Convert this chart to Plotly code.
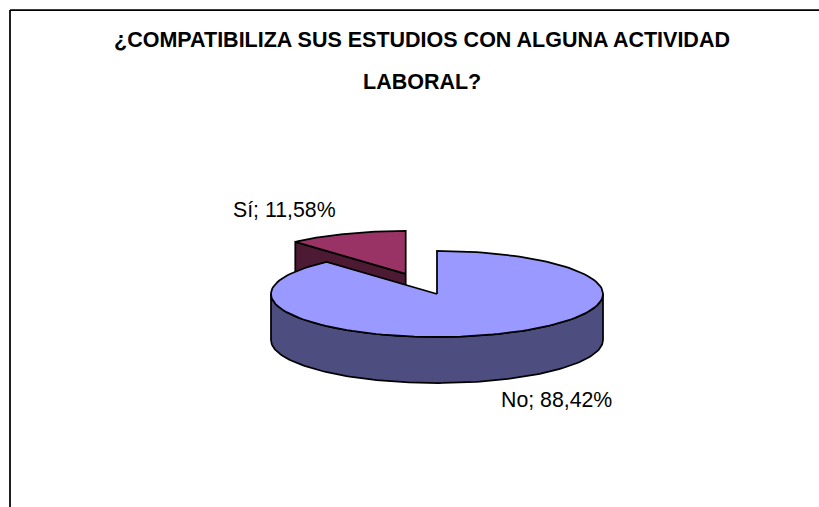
import numpy as np
import plotly.graph_objects as go

# Data
categories = ["No", "Sí"]
percentages = [88.42, 11.58]
colors_top = ["#9999FF", "#993366"]
colors_side = ["#4D4D80", "#4D1A33"]
title_lines = ["¿COMPATIBILIZA SUS ESTUDIOS CON ALGUNA ACTIVIDAD", "LABORAL?"]

W, H = 819, 507

# Pie projection (data units: 1 = ellipse radius on each axis)
CX, CY, RX, RY = 437, 294, 166, 43
DEPTH = 46 / RY
EXPLODE = 0.5
FONT = "Liberation Sans"
LABEL_SIZE = 21.3
TITLE_SIZE = 21.5
LEFT = 10
TOP = 10
LINE = 1.75


def wedge_xy(start, end, dx=0.0, dy=0.0):
    t = np.radians(np.linspace(start, end, 140))
    x = np.concatenate([[dx], dx + np.sin(t), [dx]])
    y = np.concatenate([[dy], dy + np.cos(t), [dy]])
    return x, y


def poly(x, y, fill):
    return go.Scatter(x=x, y=y, mode="lines", fill="toself", fillcolor=fill,
                      line=dict(color="black", width=LINE), hoverinfo="skip",
                      showlegend=False)


no_deg = percentages[0] * 3.6
si_deg = percentages[1] * 3.6
mid = np.radians(-si_deg / 2)
dx, dy = EXPLODE * np.sin(mid) * 1.06, EXPLODE * np.cos(mid)
edge = np.radians(-si_deg)

fig = go.Figure()
# Sí slice: cut wall, then top
fig.add_trace(poly([dx, dx + np.sin(edge), dx + np.sin(edge), dx, dx],
                   [dy, dy + np.cos(edge), dy + np.cos(edge) - DEPTH, dy - DEPTH, dy],
                   colors_side[1]))
sx, sy = wedge_xy(-si_deg, 0, dx, dy)
fig.add_trace(poly(sx, sy, colors_top[1]))
# No slice: rim, then top
t = np.radians(np.linspace(90, 270, 140))
fig.add_trace(poly(np.concatenate([np.sin(t), np.sin(t[::-1]), [np.sin(t[0])]]),
                   np.concatenate([np.cos(t), np.cos(t[::-1]) - DEPTH, [np.cos(t[0])]]),
                   colors_side[0]))
nx, ny = wedge_xy(0, no_deg)
fig.add_trace(poly(nx, ny, colors_top[0]))


def label(i):
    return f"{categories[i]}; {percentages[i]:.2f}%".replace(".", ",")


annots = [
    dict(x=(556 - CX) / RX, y=(CY - 400) / RY, text=label(0)),
    dict(x=(284 - CX) / RX, y=(CY - 210) / RY, text=label(1)),
]
for a in annots:
    a.update(xref="x", yref="y", showarrow=False, xanchor="center", yanchor="middle",
             font=dict(family=FONT, size=LABEL_SIZE, color="black"))
annots.append(dict(xref="paper", yref="paper", x=422 / W, y=1 - 82 / H,
                   text=f"<b>{title_lines[1]}</b>", showarrow=False,
                   xanchor="center", yanchor="middle",
                   font=dict(family=FONT, size=TITLE_SIZE, color="black")))

fig.update_layout(
    width=W, height=H, autosize=False,
    margin=dict(l=0, r=0, t=0, b=0),
    paper_bgcolor="white", plot_bgcolor="white",
    showlegend=False,
    title=dict(text=title_lines[0], x=422 / W, xanchor="center", xref="paper",
               y=1 - 39 / H, yanchor="middle", yref="container",
               font=dict(family=FONT, size=TITLE_SIZE, color="black", weight="bold")),
    xaxis=dict(visible=False, range=[-CX / RX, (W - CX) / RX], fixedrange=True),
    yaxis=dict(visible=False, range=[(CY - H) / RY, CY / RY], fixedrange=True),
    annotations=annots,
    shapes=[
        dict(type="line", xref="paper", yref="paper", x0=LEFT / W, x1=LEFT / W, y0=0, y1=1 - TOP / H,
             line=dict(color="black", width=LINE)),
        dict(type="line", xref="paper", yref="paper", x0=LEFT / W, x1=1, y0=1 - TOP / H, y1=1 - TOP / H,
             line=dict(color="black", width=LINE)),
    ],
)
fig.write_html("out.html", config={"displayModeBar": False},
               post_script="document.body.style.margin='0';")
